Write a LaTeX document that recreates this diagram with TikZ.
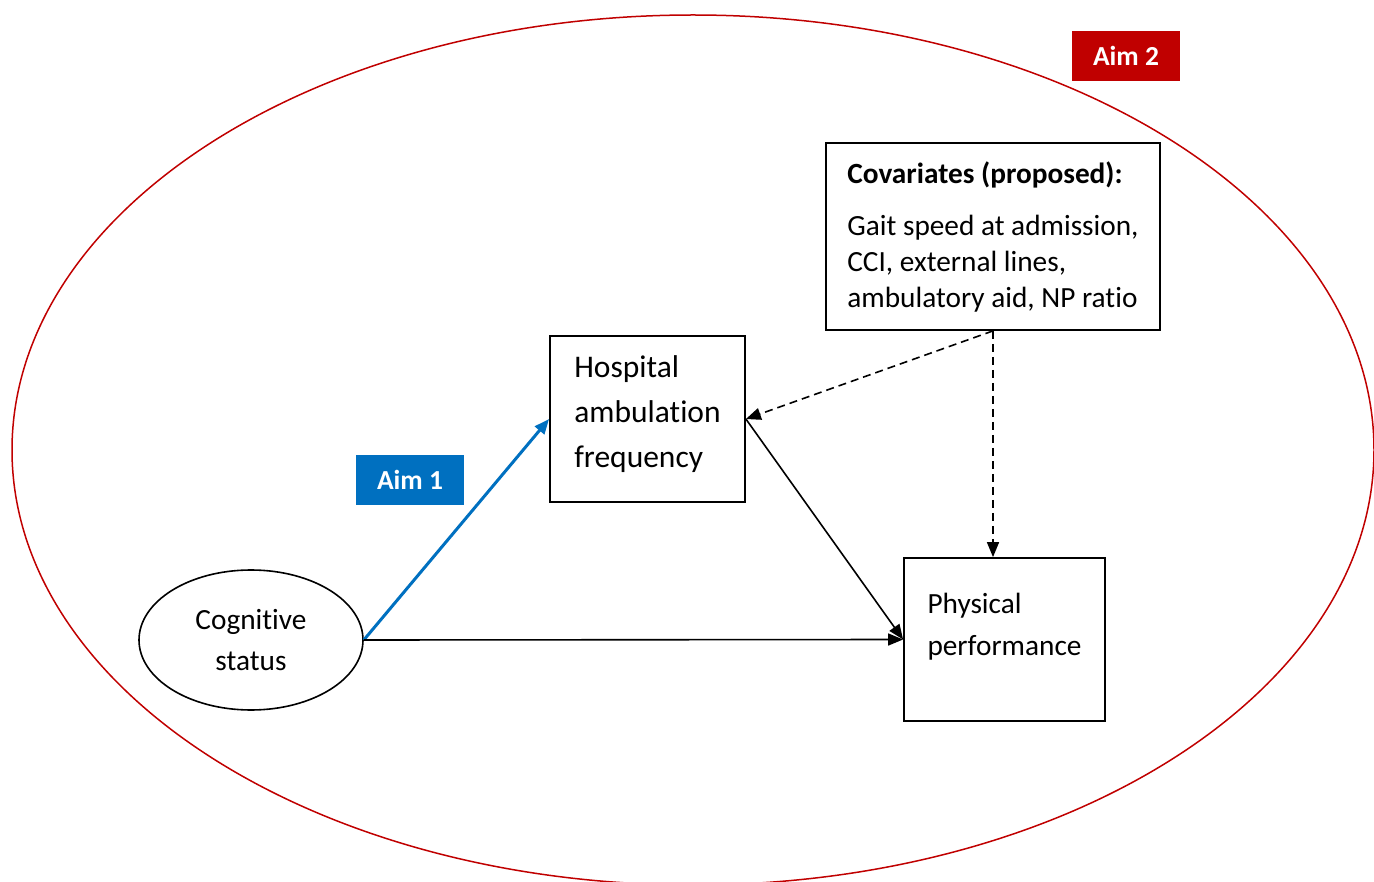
\documentclass[tikz,border=0pt]{standalone}
\usepackage{fontspec}
\setmainfont{Carlito}[Ligatures=NoCommon]
\usepackage{tikz}
\usetikzlibrary{arrows.meta,positioning,shapes.geometric}
\definecolor{AimRed}{HTML}{C00000}
\definecolor{AimBlue}{HTML}{0070C0}

\begin{document}
\begin{tikzpicture}[x=1pt,y=-1pt,
    varbox/.style={draw,line width=1.8pt,align=left,inner sep=0pt},
    aimtag/.style={text=white,font=\fontsize{27.5}{30}\selectfont\bfseries,
      minimum width=108pt,minimum height=50pt,inner sep=0pt},
    link/.style={line width=1.6pt,-{Triangle[length=15pt,width=12pt]}},
    conf/.style={link,dash pattern=on 8pt off 5pt}]
      \useasboundingbox (0,0) rectangle (1374,882);
      \clip (0,0) rectangle (1374,882);
      % aim 2 frame
      \draw[AimRed,line width=1.5pt] (693,450) ellipse [x radius=681,y radius=435];
      \node[aimtag,fill=AimRed] (aimtwo) at (1126,56) {Aim 2};
      \node[aimtag,fill=AimBlue] (aimone) at (410,480) {Aim 1};
      % variables
      \node[varbox,minimum width=334pt,minimum height=187pt,
        font=\fontsize{29.3}{36}\selectfont] (cov) at (993,236.5)
      {\textbf{Covariates (proposed):}\\[16pt]
        Gait speed at admission,\\CCI, external lines,\\ambulatory aid, NP ratio};
      \node[varbox,minimum width=195pt,minimum height=166pt,text depth=15pt,
        font=\fontsize{31.5}{45}\selectfont] (hosp) at (647.5,419)
      {Hospital\\ambulation\\frequency};
      \node[varbox,minimum width=201pt,minimum height=163pt,text depth=30pt,
        font=\fontsize{29.3}{42}\selectfont] (phys) at (1004.5,639.5)
      {Physical\\performance};
      \node[draw,ellipse,line width=1.6pt,minimum width=224pt,minimum height=140pt,
        inner sep=0pt,align=center,font=\fontsize{29.3}{41}\selectfont] (cog) at (251,640)
      {Cognitive\\status};
      % paths
      \draw[link,AimBlue,line width=3pt] (cog.east) -- (hosp.west);
      \draw[link] (cog.east) -- (phys.west);
      \draw[link] (hosp.east) -- (phys.west);
      \draw[conf] (cov.south) -- (hosp.east);
      \draw[conf] (cov.south) -- (cov.south |- phys.north);
\end{tikzpicture}
\end{document}
